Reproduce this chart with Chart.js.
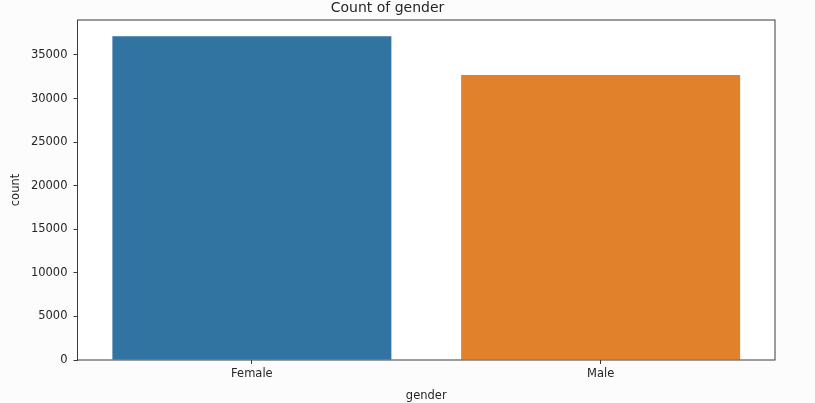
<!DOCTYPE html>
<html>
<head>
<meta charset="utf-8">
<script src="https://cdn.jsdelivr.net/npm/chart.js@4"></script>
<style>
  html, body { margin: 0; padding: 0; background: #fcfcfc; }
  #wrap { width: 815px; height: 403px; }
</style>
</head>
<body>
<div id="wrap"><canvas id="genderChart" width="815" height="403"></canvas></div>
<script>
// dados
const categories = ["Female", "Male"];
const counts = [37150, 32700];
const barColors = ["#3274a1", "#e1812c"];
const yTicks = [0, 5000, 10000, 15000, 20000, 25000, 30000, 35000];

// fundo cinza claro fora da área do gráfico, branco dentro, e moldura
const backgroundPlugin = {
    id: "bgFrame",
    beforeDraw(chart) {
        const c = chart.ctx;
        const a = chart.chartArea;
        c.save();
        c.fillStyle = "#fcfcfc";
        c.fillRect(0, 0, chart.width, chart.height);
        c.fillStyle = "#ffffff";
        c.fillRect(a.left, a.top, a.right - a.left, a.bottom - a.top);
        c.restore();
    },
    afterDatasetsDraw(chart) {
        const c = chart.ctx;
        const a = chart.chartArea;
        c.save();
        c.strokeStyle = "#3a3a3a";
        c.lineWidth = 1;
        c.strokeRect(a.left, a.top, a.right - a.left, a.bottom - a.top);
        c.restore();
    }
};

Chart.defaults.font.family = "'DejaVu Sans', sans-serif";
Chart.defaults.color = "#262626";

const ctx = document.getElementById("genderChart").getContext("2d");
new Chart(ctx, {
    type: "bar",
    data: {
        labels: categories,
        datasets: [{
            data: counts,
            backgroundColor: barColors,
            barPercentage: 0.8,
            categoryPercentage: 1.0
        }]
    },
    options: {
        responsive: false,
        animation: false,
        layout: { padding: { left: 0, right: 40, top: 0, bottom: 0 } },
        plugins: {
            legend: { display: false },
            tooltip: { enabled: false },
            title: {
                display: true,
                text: "Count of gender",
                font: { size: 14, weight: "normal", lineHeight: 1.2 },
                color: "#262626",
                padding: { top: 0, bottom: 3.2 }
            }
        },
        scales: {
            x: {
                grid: { offset: false, drawOnChartArea: false, drawTicks: true, tickLength: 4, color: "#3a3a3a" },
                border: { display: false },
                ticks: { font: { size: 11.5 }, padding: 3 },
                title: { display: true, text: "gender", font: { size: 11.5 }, padding: { top: 3, bottom: 0 } },
                afterFit(scale) { scale.height = 43; }
            },
            y: {
                min: 0,
                max: 39010,
                afterBuildTicks(scale) { scale.ticks = yTicks.map(v => ({ value: v })); },
                grid: { drawOnChartArea: false, drawTicks: true, tickLength: 4, color: "#3a3a3a" },
                border: { display: false },
                ticks: { font: { size: 11.5 }, padding: 6, callback: v => String(v) },
                title: { display: true, text: "count", font: { size: 11.5 }, padding: { top: 9, bottom: 2 } },
                afterFit(scale) { scale.width = 77.5; }
            }
        }
    },
    plugins: [backgroundPlugin]
});
</script>
</body>
</html>
